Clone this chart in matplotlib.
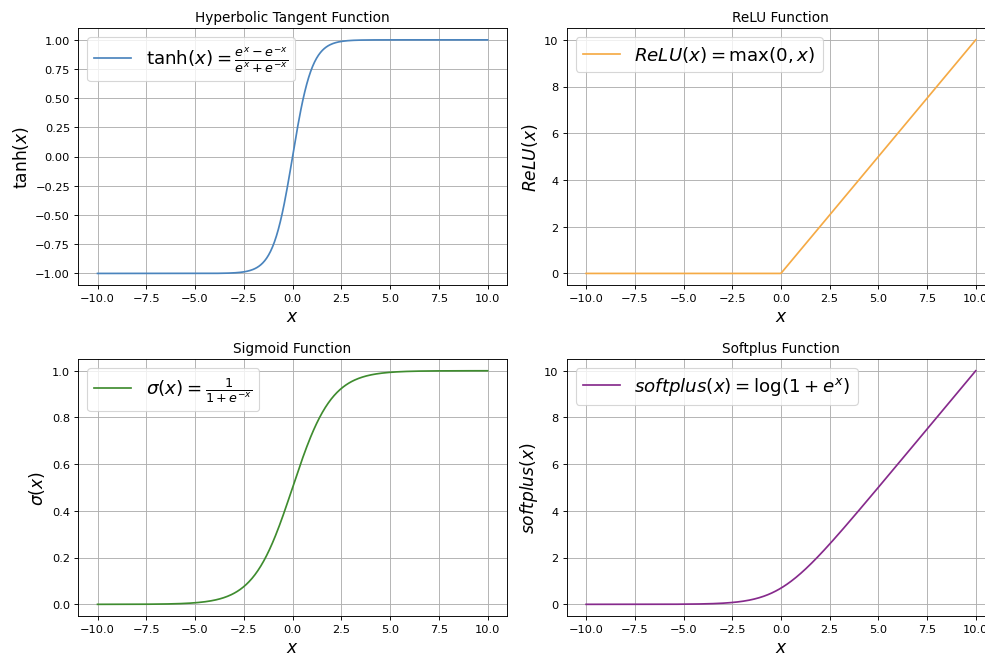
import numpy as np
import matplotlib
matplotlib.use("Agg")
import matplotlib.pyplot as plt

# input range shared by all four activation curves
x_min, x_max, n_points = -10, 10, 400
x = np.linspace(x_min, x_max, n_points)

titles = ["Hyperbolic Tangent Function", "ReLU Function",
          "Sigmoid Function", "Softplus Function"]
ylabels = [r"$\tanh(x)$", r"$ReLU(x)$", r"$\sigma(x)$", r"$softplus(x)$"]
legend_labels = [
    r"$\tanh(x) = \frac{e^x - e^{-x}}{e^x + e^{-x}}$",
    r"$ReLU(x) = \max(0, x)$",
    r"$\sigma(x) = \frac{1}{1 + e^{-x}}$",
    r"$softplus(x) = \log(1 + e^x)$",
]
colors = ["#4a84bd", "#f5aa45", "#3f8c2f", "#862a8c"]

tanh_y = np.tanh(x)
relu_y = np.maximum(0, x)
sigmoid_y = 1 / (1 + np.exp(-x))
softplus_y = np.log1p(np.exp(x))
curves = [tanh_y, relu_y, sigmoid_y, softplus_y]

W, H = 985, 657
fig = plt.figure(figsize=(12, 8), dpi=82.1)

# axes boxes in pixels: left, top, right, bottom (right column runs off the edge)
boxes = [
    (78, 29, 507, 286),
    (566.5, 29, 995, 286),
    (78, 360, 507, 617),
    (566.5, 360, 995, 617),
]

for box, y, title, ylab, lab, c in zip(boxes, curves, titles, ylabels,
                                       legend_labels, colors):
    l, t, r, b = box
    ax = fig.add_axes([l / W, 1 - b / H, (r - l) / W, (b - t) / H])
    ax.plot(x, y, color=c, linewidth=1.5, label=lab)
    ax.set_title(title, fontsize=12)
    ax.set_xlabel(r"$x$", fontsize=15)
    ax.set_ylabel(ylab, fontsize=15)
    ax.grid(True)
    ax.legend(loc="upper left", fontsize=16)

plt.savefig("out.png", dpi=82.1)
